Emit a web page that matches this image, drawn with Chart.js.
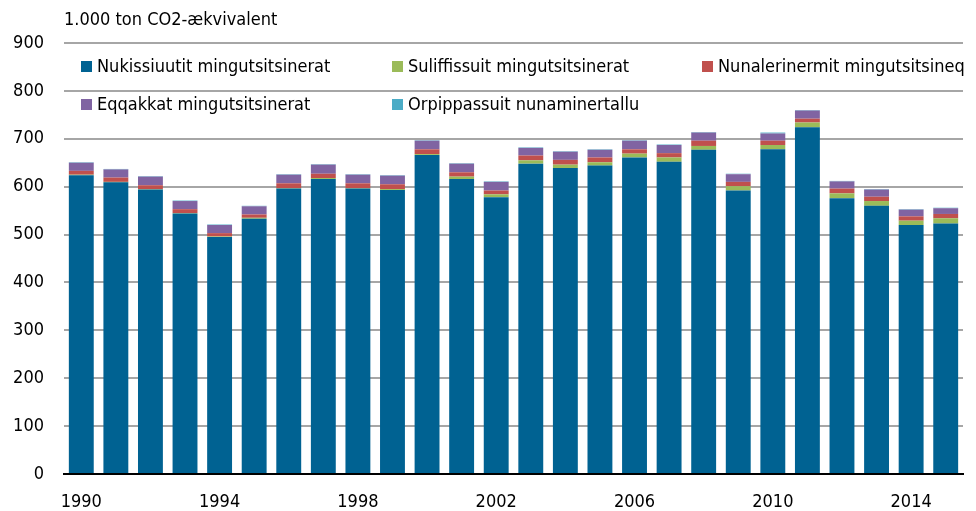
<!DOCTYPE html>
<html>
<head>
<meta charset="utf-8">
<script src="https://cdn.jsdelivr.net/npm/chart.js@4.4.1/dist/chart.umd.min.js"></script>
<style>
  html, body { margin: 0; padding: 0; background: #fff; }
  #wrap { width: 976px; height: 511px; position: relative; }
</style>
</head>
<body>
<div id="wrap"><canvas id="c" width="976" height="511"></canvas></div>
<script>
// 1.000 ton CO2-ækvivalent, 1990-2015
const years = ["1990","1991","1992","1993","1994","1995","1996","1997","1998","1999",
  "2000","2001","2002","2003","2004","2005","2006","2007","2008","2009",
  "2010","2011","2012","2013","2014","2015"];

const nukissiuutit = [624,609,594,544,495,533,596,616,596,593,666,616,578,648,639,644,661,652,677,592,678,724,576,560,520,523];
const suliffissuit = [1,1,1,1,1,2,1,2,1,2,2,5,6,7,7,7,8,9,8,9,9,10,10,10,9,11];
const nunalerinermit = [8,9,8,8,7,7,10,9,10,10,10,9,8,10,10,10,9,9,11,9,9,8,10,9,9,9];
const eqqakkat = [17,17,18,17,17,17,18,19,18,18,18,18,18,16,17,16,18,17,17,16,15,17,15,15,14,12];
const orppippassuit = [1,1,1,1,1,1,1,1,1,1,1,1,1,1,1,1,1,1,1,1,2,1,1,1,1,1];

const yTicks = [0,100,200,300,400,500,600,700,800,900];
const unitLabel = "1.000 ton CO2-ækvivalent";

const FONT = "'Liberation Sans Narrow', 'DejaVu Sans Condensed', 'Roboto Condensed', sans-serif";

const series = [
  { label: "Nukissiuutit mingutsitsinerat", data: nukissiuutit, color: "#006292" },
  { label: "Suliffissuit mingutsitsinerat", data: suliffissuit, color: "#9bbb59" },
  { label: "Nunalerinermit mingutsitsineq", data: nunalerinermit, color: "#c0504d" },
  { label: "Eqqakkat mingutsitsinerat", data: eqqakkat, color: "#8064a2" },
  { label: "Orpippassuit nunaminertallu", data: orppippassuit, color: "#4bacc6" }
];

// legend slots: [column x, row y]
const legendSlots = [[81, 66], [392, 66], [702, 66], [81, 104], [392, 104]];

const overlay = {
  id: "overlay",
  afterDraw(chart) {
    const ctx = chart.ctx;
    const area = chart.chartArea;
    ctx.save();
    ctx.fillStyle = "#000";
    ctx.textBaseline = "middle";
    ctx.textAlign = "left";
    ctx.font = "18px " + FONT;
    ctx.fillText(unitLabel, area.left, 20);

    ctx.font = "18px " + FONT;
    chart.data.datasets.forEach((ds, i) => {
      const [x, y] = legendSlots[i];
      ctx.fillStyle = ds.backgroundColor;
      ctx.fillRect(x, y - 5, 11, 11);
      ctx.fillStyle = "#000";
      ctx.fillText(ds.label, x + 16, y + 1);
    });
    ctx.restore();
  }
};

new Chart(document.getElementById("c"), {
  type: "bar",
  data: {
    labels: years,
    datasets: series.map(s => ({
      label: s.label,
      data: s.data,
      backgroundColor: s.color,
      borderWidth: 0,
      categoryPercentage: 1,
      barPercentage: 0.72
    }))
  },
  options: {
    responsive: false,
    animation: false,
    layout: { padding: { top: 43, right: 13, left: 0, bottom: 0 } },
    plugins: {
      legend: { display: false },
      tooltip: { enabled: false }
    },
    scales: {
      x: {
        stacked: true,
        grid: { display: false },
        border: { display: true, color: "#000", width: 2 },
        ticks: {
          autoSkip: false,
          maxRotation: 0,
          padding: 10,
          color: "#000",
          font: { family: FONT, size: 18 },
          callback: (v, i) => (i % 4 === 0 ? years[i] : "")
        },
        afterFit: s => { s.height = 37; }
      },
      y: {
        stacked: true,
        min: 0,
        max: 900,
        afterBuildTicks: s => { s.ticks = yTicks.map(v => ({ value: v })); },
        grid: { color: "#a6a6a6", lineWidth: 2, drawTicks: false },
        border: { display: false },
        ticks: {
          padding: 20,
          color: "#000",
          font: { family: FONT, size: 18 }
        },
        afterFit: s => { s.width = 64; }
      }
    }
  },
  plugins: [overlay]
});
</script>
</body>
</html>
